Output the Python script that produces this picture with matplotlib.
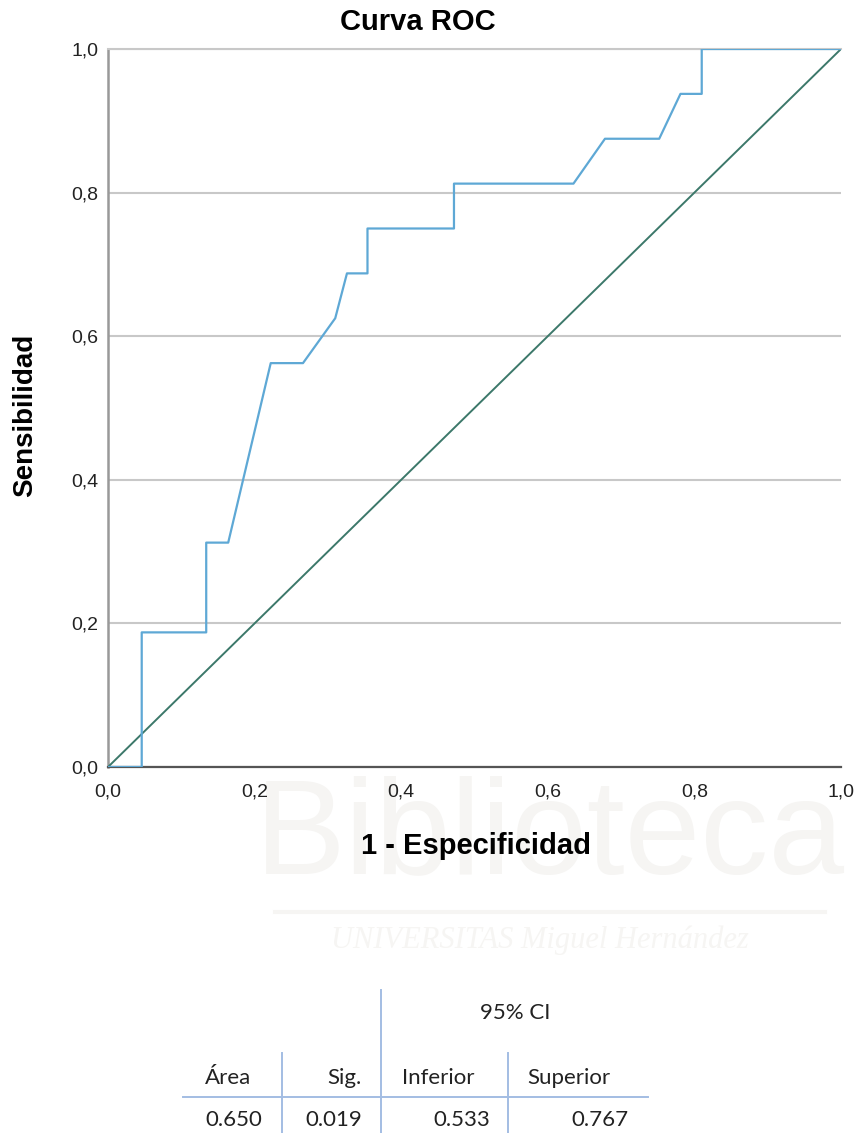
import matplotlib.pyplot as plt

# ROC curve points (1 - specificity, sensitivity)
fpr = [0, 0.046, 0.046, 0.134, 0.134, 0.164, 0.222, 0.266, 0.310, 0.326,
       0.354, 0.354, 0.472, 0.472, 0.635, 0.678, 0.752, 0.781, 0.810, 0.810, 1.0]
tpr = [0, 0, 0.1875, 0.1875, 0.3125, 0.3125, 0.5625, 0.5625, 0.625, 0.6875,
       0.6875, 0.75, 0.75, 0.8125, 0.8125, 0.875, 0.875, 0.9375, 0.9375, 1.0, 1.0]
ref_line = [0, 1]

ticks = [0, 0.2, 0.4, 0.6, 0.8, 1.0]
tick_labels = ['0,0', '0,2', '0,4', '0,6', '0,8', '1,0']

# summary table under the chart
col_headers = ['Área', 'Sig.', 'Inferior', 'Superior']
col_values = ['0.650', '0.019', '0.533', '0.767']
ci_header = '95% CI'

W, H = 860, 1133
fig = plt.figure(figsize=(W / 100, H / 100), dpi=100)
plt.rcParams['font.family'] = ['Liberation Sans', 'DejaVu Sans']

# background layer in pixel coords for watermark + table
bg = fig.add_axes([0, 0, 1, 1], zorder=0)
bg.set_xlim(0, W)
bg.set_ylim(H, 0)
bg.axis('off')

# very faint library watermark
wm = '#f6f5f3'
bg.text(550, 838, 'Biblioteca', fontsize=98, color=wm, ha='center', va='center',
        family='Liberation Sans')
bg.plot([275, 825], [912, 912], color=wm, lw=3)
bg.text(540, 940, 'UNIVERSITAS Miguel Hernández', fontsize=22, color=wm,
        ha='center', va='center', family='Liberation Serif', style='italic')

ax = fig.add_axes([108 / W, 1 - 767 / H, 733 / W, 718 / H], zorder=1)
ax.patch.set_alpha(0)

ax.plot(ref_line, ref_line, color='#3c786a', lw=1.4, zorder=3)
ax.plot(fpr, tpr, color='#5ea8d5', lw=1.6, zorder=4)

ax.set_xlim(0, 1)
ax.set_ylim(0, 1)
ax.set_xticks(ticks)
ax.set_xticklabels(tick_labels)
ax.set_yticks(ticks)
ax.set_yticklabels(tick_labels)
ax.tick_params(length=0, labelsize=14, colors='#222222')
ax.tick_params(axis='x', pad=12)
ax.tick_params(axis='y', pad=7)
ax.yaxis.grid(True, color='#c8c8c8', lw=1.5)
ax.set_axisbelow(True)

ax.spines['right'].set_visible(False)
ax.spines['top'].set_color('#c8c8c8')
ax.spines['top'].set_linewidth(1.5)
ax.spines['left'].set_color('#999999')
ax.spines['left'].set_linewidth(1.8)
ax.spines['bottom'].set_color('#555555')
ax.spines['bottom'].set_linewidth(1.6)

fig.text(418 / W, 1 - 22 / H, 'Curva ROC', fontsize=21, fontweight='bold',
         ha='center', va='center')
fig.text(476 / W, 1 - 846 / H, '1 - Especificidad', fontsize=21, fontweight='bold',
         ha='center', va='center')
fig.text(25 / W, 1 - 415 / H, 'Sensibilidad', fontsize=20, fontweight='bold',
         ha='center', va='center', rotation=90)

# table
tc = '#a3bde3'
bg.plot([381, 381], [990, H], color=tc, lw=1.4)
bg.plot([282, 282], [1053, H], color=tc, lw=1.4)
bg.plot([508, 508], [1053, H], color=tc, lw=1.4)
bg.plot([183, 648], [1097, 1097], color=tc, lw=1.4)

tf = dict(fontsize=16, color='#222222', family='Lato', va='center')
bg.text(515, 1013, ci_header, ha='center', **tf)
bg.text(205, 1078, col_headers[0], ha='left', **tf)
bg.text(362, 1078, col_headers[1], ha='right', **tf)
bg.text(402, 1078, col_headers[2], ha='left', **tf)
bg.text(527, 1078, col_headers[3], ha='left', **tf)
bg.text(205, 1120, col_values[0], ha='left', **tf)
bg.text(362, 1120, col_values[1], ha='right', **tf)
bg.text(490, 1120, col_values[2], ha='right', **tf)
bg.text(628, 1120, col_values[3], ha='right', **tf)

fig.savefig('out.png', dpi=100)
